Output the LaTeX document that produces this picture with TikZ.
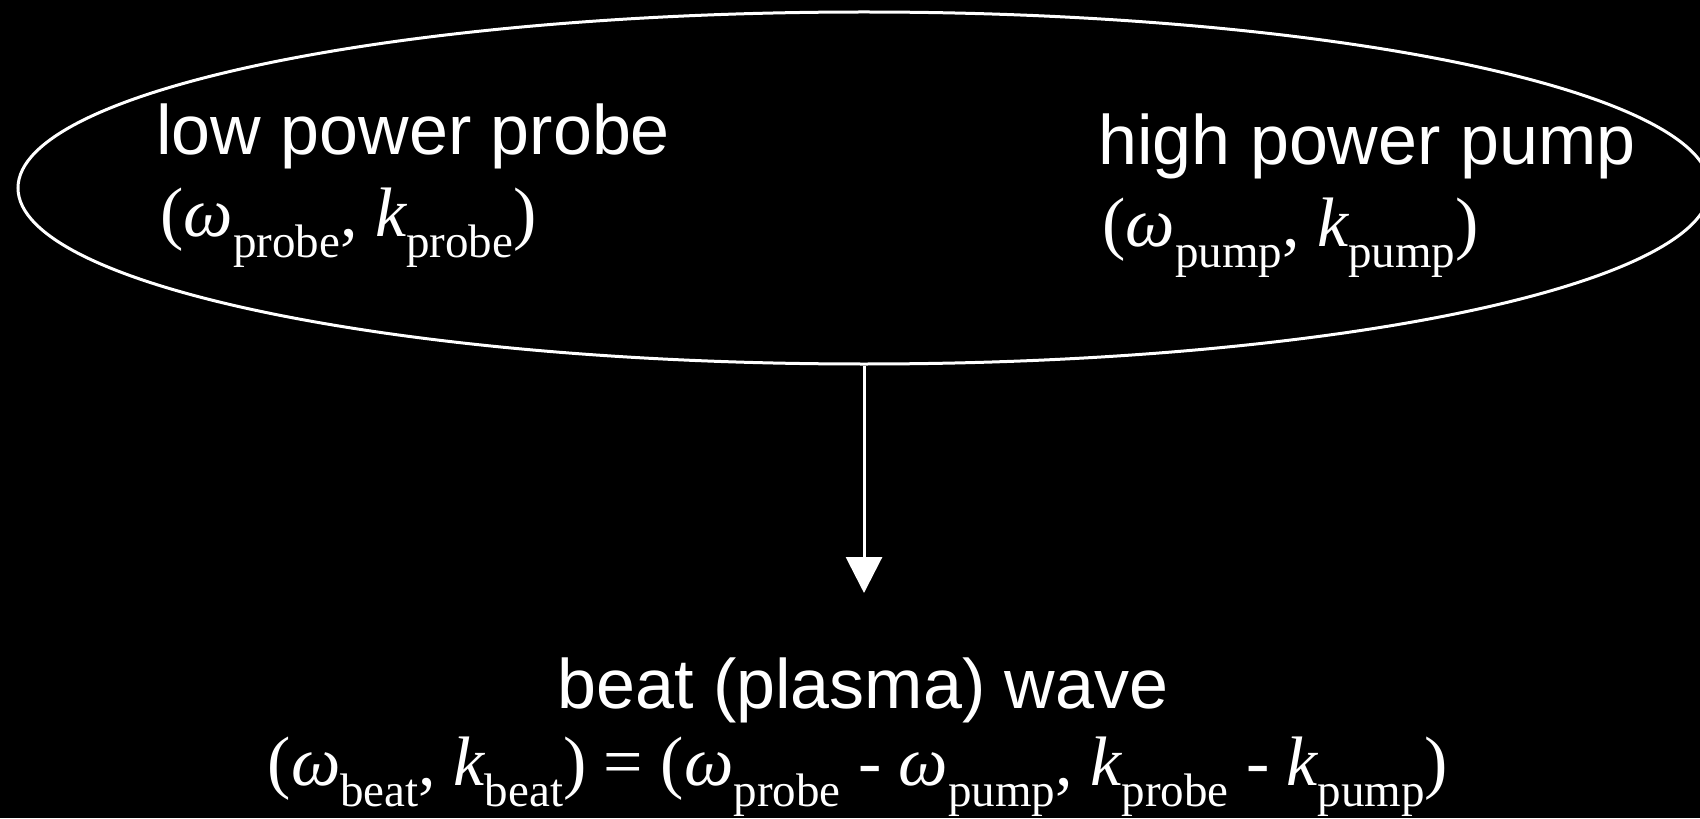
\documentclass[tikz,border=0pt]{standalone}
\usepackage{fontspec}
\setmainfont{Liberation Sans}
\newfontfamily\tnr{Liberation Serif}
\usetikzlibrary{arrows.meta,shapes.geometric}

% lowered index in the Times style
\newcommand{\lbl}[1]{\raisebox{-0.3em}{\fontsize{23.5pt}{24pt}\selectfont #1}}
\newcommand{\wv}[1]{{\itshape ω}\lbl{#1}}
\newcommand{\kv}[1]{{\itshape k}\lbl{#1}}

\begin{document}
\begin{tikzpicture}[x=0.5pt,y=-0.5pt,
  txt/.style={text=white, inner sep=0pt, font=\fontsize{35pt}{42pt}\selectfont},
  mth/.style={text=white, inner sep=0pt, font=\fontsize{35pt}{42pt}\selectfont\tnr}]
\fill[black] (0,0) rectangle (1700,818);
\useasboundingbox (0,0) rectangle (1700,818);

\node[draw=white, line width=1.5pt, ellipse, minimum width=846pt, minimum height=176pt, inner sep=0pt] (mix) at (864,188) {};

\node[txt, anchor=base west] (probe) at (156,155) {low power probe};
\node[mth, anchor=base west] (probek) at (160,236) {(\wv{probe}, \kv{probe})};
\node[txt, anchor=base west] (pump) at (1098,165) {high power pump};
\node[mth, anchor=base west] (pumpk) at (1102,246) {(\wv{pump}, \kv{pump})};

\node[txt, anchor=base] (beat) at (863,708) {beat (plasma) wave};
\node[mth, anchor=base] (beatk) at (858,785) {(\wv{beat}, \kv{beat}) = (\wv{probe} - \wv{pump}, \kv{probe} - \kv{pump})};

\coordinate (tip) at (864,593);
\draw[white, line width=1.5pt, -{Triangle[width=18pt,length=18pt]}] (mix.south) -- (tip);
\end{tikzpicture}
\end{document}
